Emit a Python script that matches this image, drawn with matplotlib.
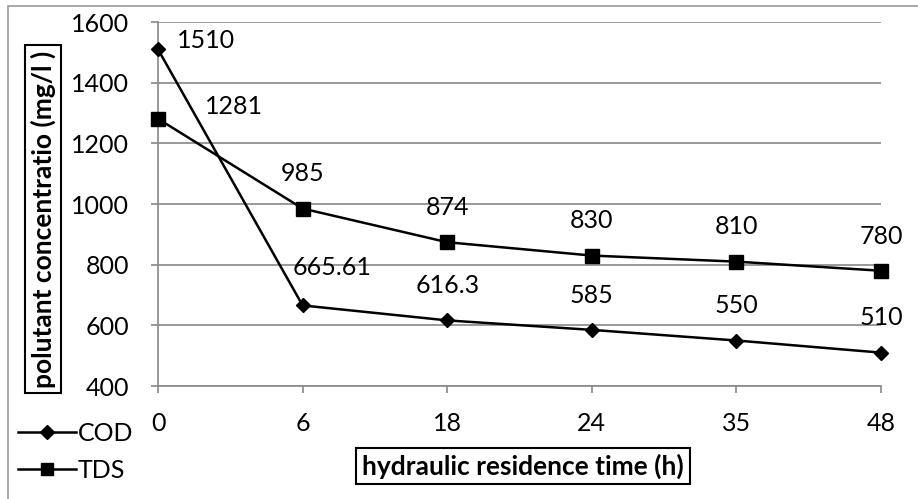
import numpy as np
import matplotlib as mpl
mpl.use('Agg')
import matplotlib.pyplot as plt
from matplotlib.lines import Line2D
from matplotlib.patches import Rectangle

plt.rcParams['font.family'] = ['Lato', 'DejaVu Sans']

# data
hours = ['0', '6', '18', '24', '35', '48']
cod = [1510, 665.61, 616.3, 585, 550, 510]
tds = [1281, 985, 874, 830, 810, 780]
cod_labels = ['1510', '665.61', '616.3', '585', '550', '510']
tds_labels = ['1281', '985', '874', '830', '810', '780']

FS = 18

fig = plt.figure(figsize=(9.18, 4.99), dpi=100)
ax = fig.add_axes([158 / 918, 1 - 386 / 499, 723 / 918, 364 / 499])

x = np.arange(len(hours))
ax.plot(x, cod, color='black', lw=1.8, marker='D', ms=7, clip_on=False, zorder=3)
ax.plot(x, tds, color='black', lw=1.8, marker='s', ms=10, clip_on=False, zorder=3)

# data labels, a few of them moved by hand like in the original
cod_off = [(14, 6), (21, 27), (0, 25), (0, 25), (0, 25), (0, 25)]
tds_off = [(55, 9), (0, 25), (0, 25), (0, 25), (0, 25), (0, 25)]
for i, (v, t) in enumerate(zip(cod, cod_labels)):
    ax.annotate(t, (i, v), xytext=cod_off[i], textcoords='offset points',
                ha='left' if i == 0 else 'center', va='center', fontsize=FS)
for i, (v, t) in enumerate(zip(tds, tds_labels)):
    ax.annotate(t, (i, v), xytext=tds_off[i], textcoords='offset points',
                ha='center', va='center', fontsize=FS)

ax.set_xlim(0, len(hours) - 1)
ax.set_ylim(400, 1600)
ax.set_yticks(np.arange(400, 1601, 200))
ax.set_xticks(x)
ax.set_xticklabels(hours)
ax.tick_params(axis='both', labelsize=FS, color='#888888', length=5,
               direction='out', width=1.2)
ax.tick_params(axis='x', pad=14)
ax.tick_params(axis='y', pad=16)
ax.grid(axis='y', color='#888888', lw=1.2)
ax.set_axisbelow(True)
for s in ['top', 'right']:
    ax.spines[s].set_visible(False)
for s in ['left', 'bottom']:
    ax.spines[s].set_color('#888888')
    ax.spines[s].set_linewidth(1.2)

# axis titles in boxes
box = dict(boxstyle='square,pad=0.22', fc='white', ec='black', lw=1.5)
fig.text(43 / 918, 1 - 219 / 499, 'polutant concentratio (mg/l )', rotation=90,
         ha='center', va='center', fontsize=19, fontweight='bold', bbox=box)
fig.text(523 / 918, 1 - 466 / 499, 'hydraulic residence time (h)',
         ha='center', va='center', fontsize=19, fontweight='bold', bbox=box)

# legend
handles = [Line2D([], [], color='black', lw=1.8, marker='D', ms=7),
           Line2D([], [], color='black', lw=1.8, marker='s', ms=9)]
fig.legend(handles, ['COD', 'TDS'], loc='upper left', bbox_to_anchor=(18 / 918, 1 - 422 / 499),
           frameon=False, fontsize=FS, handlelength=2.3, handletextpad=0.1,
           labelspacing=0.55, borderaxespad=0, borderpad=0)

# chart border (right side falls outside the picture)
fig.patches.append(Rectangle((8 / 918, -0.01), 1.0, 1 - 6 / 499 + 0.01, transform=fig.transFigure,
                             fill=False, ec='#999999', lw=1.2))

fig.savefig('out.png', dpi=100)
